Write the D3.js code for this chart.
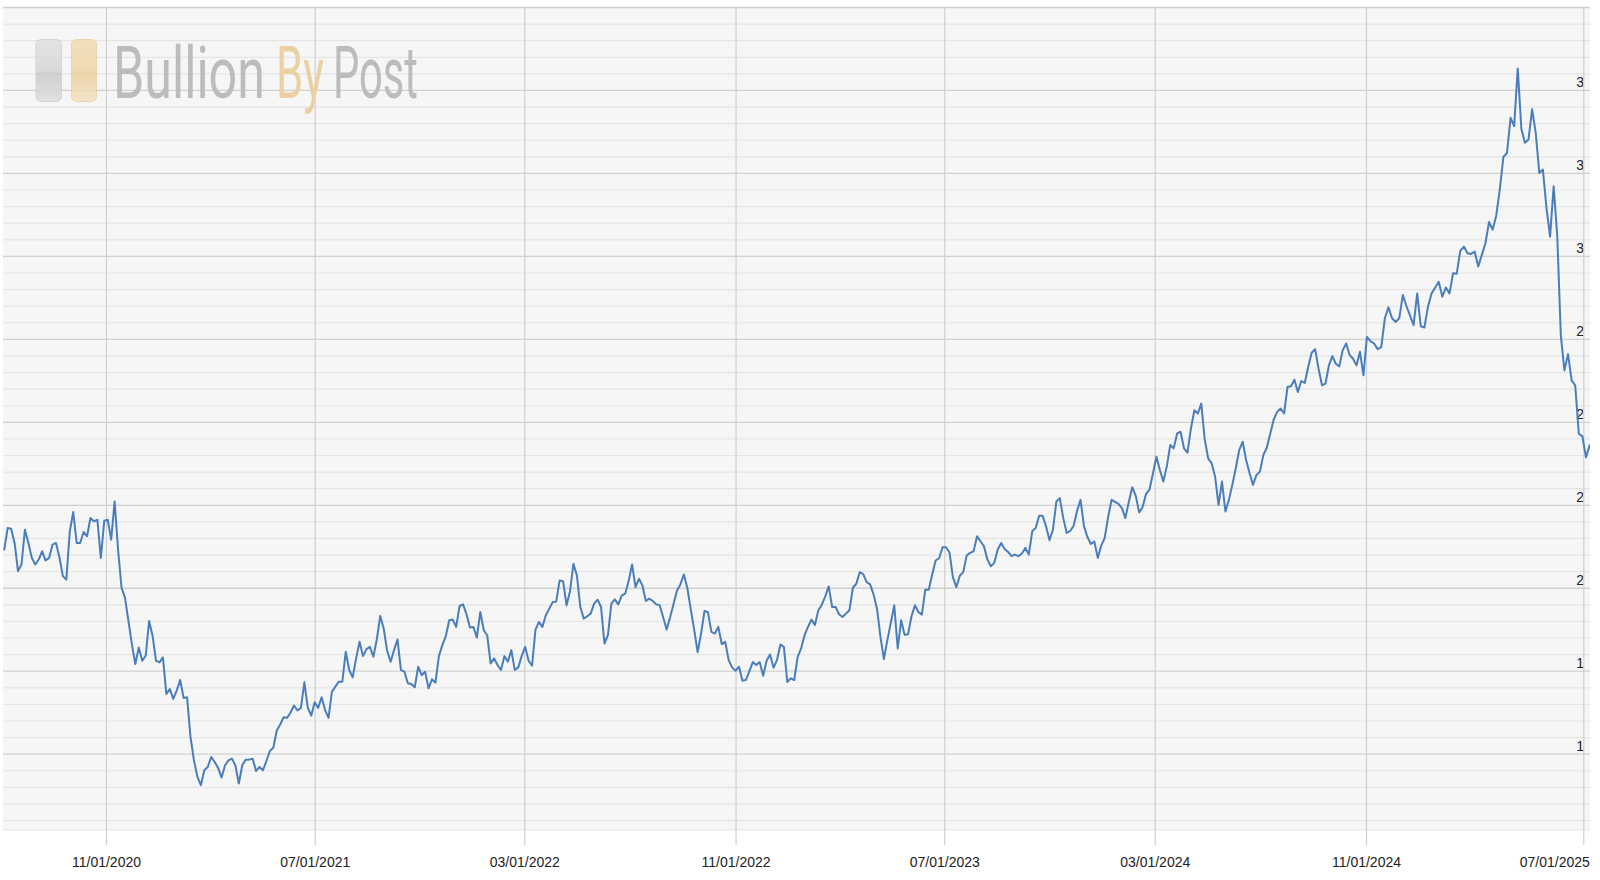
<!DOCTYPE html>
<html><head><meta charset="utf-8">
<script src="https://cdn.jsdelivr.net/npm/d3@7"></script>
<style>html,body{margin:0;padding:0;background:#fff;} svg{display:block;}</style>
</head><body><svg id="c" width="1600" height="880"></svg>
<script>
// Gold / platinum price ratio, one reading every 4 days
const seriesStart = "07/06/2020";
const stepDays = 4;
const ratio = [
2.115,2.18,2.178,2.135,2.05,2.07,2.175,2.135,2.09,2.07,
2.085,2.11,2.082,2.09,2.13,2.135,2.092,2.035,2.025,2.17,
2.228,2.135,2.135,2.168,2.155,2.21,2.2,2.205,2.09,2.202,
2.205,2.145,2.26,2.115,2.0,1.97,1.9,1.83,1.77,1.82,
1.78,1.795,1.9,1.855,1.78,1.775,1.79,1.68,1.695,1.665,
1.69,1.722,1.668,1.67,1.55,1.48,1.43,1.405,1.45,1.46,
1.49,1.475,1.457,1.428,1.465,1.48,1.485,1.465,1.41,1.465,
1.482,1.482,1.485,1.448,1.46,1.45,1.478,1.508,1.518,1.57,
1.588,1.61,1.608,1.624,1.645,1.63,1.638,1.715,1.638,1.615,
1.655,1.638,1.67,1.632,1.608,1.687,1.702,1.717,1.717,1.807,
1.752,1.73,1.787,1.837,1.794,1.815,1.822,1.792,1.844,1.915,
1.877,1.81,1.777,1.812,1.844,1.752,1.747,1.712,1.71,1.70,
1.762,1.737,1.747,1.697,1.724,1.714,1.794,1.827,1.854,1.902,
1.904,1.882,1.945,1.95,1.92,1.88,1.882,1.85,1.927,1.872,
1.857,1.772,1.787,1.767,1.752,1.794,1.777,1.812,1.752,1.76,
1.794,1.822,1.78,1.765,1.874,1.897,1.882,1.917,1.937,1.957,
1.958,2.022,2.02,1.947,1.989,2.072,2.037,1.942,1.907,1.914,
1.922,1.952,1.964,1.942,1.832,1.857,1.952,1.965,1.95,1.976,
1.982,2.02,2.07,2.002,2.027,2.007,1.96,1.967,1.96,1.95,
1.947,1.912,1.874,1.91,1.95,1.991,2.01,2.04,2.0,1.936,
1.874,1.806,1.862,1.93,1.926,1.867,1.862,1.882,1.83,1.837,
1.782,1.76,1.75,1.762,1.72,1.722,1.749,1.776,1.767,1.776,
1.735,1.78,1.799,1.759,1.782,1.829,1.822,1.716,1.727,1.722,
1.792,1.817,1.857,1.882,1.904,1.888,1.932,1.949,1.974,2.004,
1.942,1.942,1.92,1.912,1.922,1.932,2.0,2.012,2.047,2.041,
2.017,2.01,1.98,1.937,1.852,1.785,1.842,1.894,1.947,1.817,
1.902,1.858,1.86,1.914,1.947,1.927,1.919,1.994,1.994,2.04,
2.082,2.089,2.122,2.122,2.107,2.032,2.002,2.036,2.047,2.097,
2.105,2.11,2.155,2.14,2.125,2.085,2.065,2.075,2.115,2.135,
2.117,2.108,2.095,2.10,2.095,2.103,2.12,2.10,2.17,2.18,
2.217,2.217,2.185,2.143,2.175,2.26,2.27,2.209,2.165,2.171,
2.187,2.232,2.265,2.185,2.153,2.132,2.139,2.09,2.127,2.15,
2.213,2.265,2.259,2.253,2.24,2.21,2.259,2.303,2.277,2.227,
2.243,2.283,2.296,2.345,2.395,2.355,2.32,2.365,2.43,2.42,
2.465,2.47,2.42,2.407,2.48,2.535,2.525,2.555,2.447,2.39,
2.375,2.335,2.25,2.32,2.23,2.265,2.31,2.36,2.415,2.44,
2.385,2.345,2.31,2.34,2.35,2.40,2.422,2.465,2.507,2.53,
2.54,2.525,2.605,2.607,2.627,2.59,2.623,2.617,2.665,2.708,
2.719,2.66,2.61,2.615,2.67,2.698,2.675,2.667,2.716,2.736,
2.702,2.69,2.67,2.711,2.64,2.756,2.743,2.736,2.719,2.725,
2.812,2.845,2.812,2.801,2.812,2.882,2.849,2.821,2.791,2.887,
2.788,2.784,2.847,2.887,2.904,2.922,2.877,2.905,2.887,2.948,
2.946,3.015,3.028,3.008,3.006,3.013,2.968,3.003,3.038,3.102,
3.079,3.121,3.2,3.298,3.31,3.416,3.391,3.565,3.383,3.341,
3.351,3.442,3.371,3.25,3.26,3.144,3.058,3.21,3.06,2.759,
2.655,2.704,2.625,2.61,2.464,2.456,2.393,2.429
];
const xTickLabels = ["11/01/2020","07/01/2021","03/01/2022","11/01/2022","07/01/2023","03/01/2024","11/01/2024","07/01/2025"];
const xScaleAnchors = ["11/01/2020","11/01/2024","07/01/2025"];
const yTickValues = [1.5,1.75,2.0,2.25,2.5,2.75,3.0,3.25,3.5];
const yTickLabels = ["1","1","2","2","2","2","3","3","3"];
const yDomain = [1.27, 3.75];
const yMinorStep = 0.05;
const logoWords = ["Bullion","By","Post"];

const plot = {left:3, right:1590, top:7, bottom:830};
const parse = d3.utcParse("%m/%d/%Y");
const start = parse(seriesStart);
const data = ratio.map((v,i)=>({date:d3.utcDay.offset(start, i*stepDays), value:v}));

const x = d3.scaleUtc().domain(xScaleAnchors.map(parse)).range([106,1366,1583.3]);
const y = d3.scaleLinear().domain(yDomain).range([plot.bottom, plot.top]);

const svg = d3.select("#c");
const defs = svg.append("defs");
const font = "'Liberation Sans', Arial, Helvetica, sans-serif";

// plot background
svg.append("rect").attr("x",plot.left).attr("y",plot.top)
  .attr("width",plot.right-plot.left).attr("height",plot.bottom-plot.top)
  .attr("fill","#f6f6f6");

// minor horizontal grid
const minorVals = d3.range(Math.round(1.30/yMinorStep), Math.round(3.75/yMinorStep)+1).map(k=>k*yMinorStep)
  .filter(v=>Math.abs(v*4-Math.round(v*4))>1e-6);
const gMinor = svg.append("g").attr("transform",`translate(${plot.right},0)`)
  .call(d3.axisRight(y).tickValues(minorVals).tickSize(-(plot.right-plot.left)).tickFormat(""));
gMinor.select(".domain").remove();
gMinor.selectAll("line").attr("stroke","#e5e5e5").attr("stroke-width",1.2);

// major horizontal grid (incl. top line)
const majorAll = yTickValues.concat([3.75]);
const gMajor = svg.append("g").attr("transform",`translate(${plot.right},0)`)
  .call(d3.axisRight(y).tickValues(majorAll).tickSize(-(plot.right-plot.left))
    .tickFormat(v=>{const i=yTickValues.indexOf(v); return i<0?"":yTickLabels[i];}));
gMajor.select(".domain").remove();
gMajor.selectAll("line").attr("stroke","#d0d0d0").attr("stroke-width",1.3);
gMajor.selectAll("text").attr("x",-6).attr("dy",-3).attr("text-anchor","end")
  .attr("font-family",font).attr("font-size",14).attr("fill","#222");

// bottom border
svg.append("line").attr("x1",plot.left).attr("x2",plot.right).attr("y1",plot.bottom).attr("y2",plot.bottom)
  .attr("stroke","#e2e2e2").attr("stroke-width",1);

// vertical grid + x labels
const axisY = 845;
const gX = svg.append("g").attr("transform",`translate(0,${axisY})`)
  .call(d3.axisBottom(x).tickValues(xTickLabels.map(parse)).tickSize(-(axisY-plot.top)).tickPadding(12.5)
    .tickFormat(d3.utcFormat("%m/%d/%Y")));
gX.select(".domain").remove();
gX.selectAll("line").attr("stroke","#cfcfcf").attr("stroke-width",1.2);
gX.selectAll("text").attr("font-family",font).attr("font-size",14).attr("fill","#222");
gX.selectAll(".tick").each(function(){
  const t = d3.select(this).select("text");
  const bb = t.node().getBBox();
  const m = /translate\(([-\d.]+)/.exec(d3.select(this).attr("transform"));
  const tx = +m[1];
  if (tx + bb.x + bb.width > plot.right) t.attr("x", plot.right - (tx + bb.x + bb.width));
});

// watermark logo
const logo = svg.append("g");
const gg = defs.append("linearGradient").attr("id","gGray").attr("x1",0).attr("y1",0).attr("x2",0).attr("y2",1);
gg.append("stop").attr("offset","0").attr("stop-color","#e0e0e0");
gg.append("stop").attr("offset","0.5").attr("stop-color","#d6d6d6");
gg.append("stop").attr("offset","0.55").attr("stop-color","#c9c9c9");
gg.append("stop").attr("offset","1").attr("stop-color","#dedede");
const go = defs.append("linearGradient").attr("id","gGold").attr("x1",0).attr("y1",0).attr("x2",0).attr("y2",1);
go.append("stop").attr("offset","0").attr("stop-color","#f1dcb2");
go.append("stop").attr("offset","0.5").attr("stop-color","#eed7a8");
go.append("stop").attr("offset","0.55").attr("stop-color","#e9cf9c");
go.append("stop").attr("offset","1").attr("stop-color","#f3e2c2");
logo.append("rect").attr("x",36).attr("y",39.5).attr("width",25.5).attr("height",62).attr("rx",5)
  .attr("fill","url(#gGray)").attr("stroke","#cfcfcf").attr("opacity",0.85);
logo.append("rect").attr("x",71.5).attr("y",39.5).attr("width",25).attr("height",62).attr("rx",5)
  .attr("fill","url(#gGold)").attr("stroke","#e8d0a0").attr("opacity",0.85);
const wordBoxes = [{x:113,w:152,c:"#bcbcbc"},{x:276,w:48,c:"#e9d1a2"},{x:333,w:85,c:"#bcbcbc"}];
logoWords.forEach((w,i)=>{
  const t = logo.append("text").attr("x",0).attr("y",0)
    .attr("font-family","Roboto, 'Open Sans', sans-serif").attr("font-size",72).attr("font-weight",400)
    .attr("fill",wordBoxes[i].c).text(w);
  const bb = t.node().getBBox();
  const sx = wordBoxes[i].w / bb.width;
  t.attr("transform",`translate(${wordBoxes[i].x - bb.x*sx},98) scale(${sx},1)`);
});

// clip + line
defs.append("clipPath").attr("id","clip").append("rect")
  .attr("x",plot.left).attr("y",plot.top-3).attr("width",plot.right-plot.left).attr("height",plot.bottom-plot.top+6);
svg.append("path").datum(data)
  .attr("clip-path","url(#clip)")
  .attr("fill","none").attr("stroke","#4a7ebb").attr("stroke-width",2)
  .attr("stroke-linejoin","round").attr("stroke-linecap","round")
  .attr("d", d3.line().x(d=>x(d.date)).y(d=>y(d.value)));
</script>
</body></html>
